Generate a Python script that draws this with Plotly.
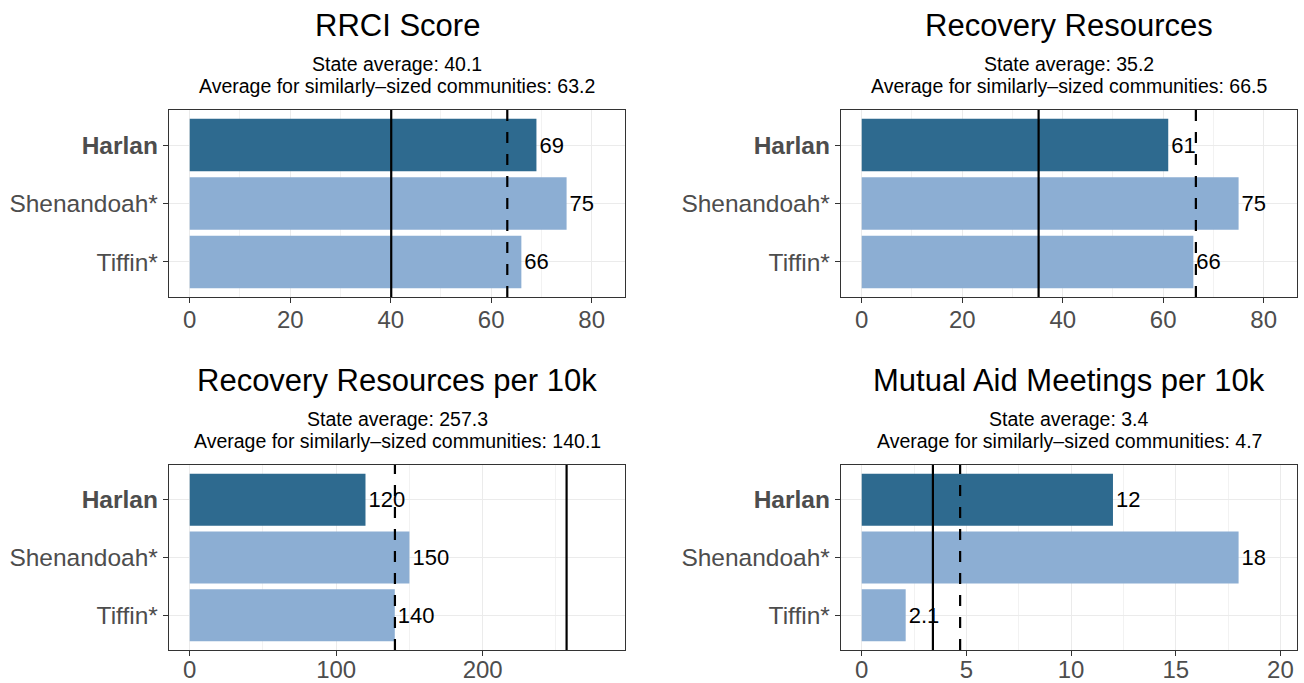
import plotly.graph_objects as go

W, H = 1304, 683

communities = ["Harlan", "Shenandoah*", "Tiffin*"]
titles = ["RRCI Score", "Recovery Resources", "Recovery Resources per 10k", "Mutual Aid Meetings per 10k"]
rrci = [69, 75, 66]
resources = [61, 75, 66]
resources_per10k = [120, 150, 140]
meetings_per10k = [12, 18, 2.1]
labels_rrci = ["69", "75", "66"]
labels_resources = ["61", "75", "66"]
labels_res10k = ["120", "150", "140"]
labels_meet10k = ["12", "18", "2.1"]
state_avg = [40.1, 35.2, 257.3, 3.4]
similar_avg = [63.2, 66.5, 140.1, 4.7]
x_ticks = [[0, 20, 40, 60, 80], [0, 20, 40, 60, 80], [0, 100, 200], [0, 5, 10, 15, 20]]
x_minor = [[10, 30, 50, 70], [10, 30, 50, 70], [50, 150, 250], [2.5, 7.5, 12.5, 17.5]]

values = [rrci, resources, resources_per10k, meetings_per10k]
labels = [labels_rrci, labels_resources, labels_res10k, labels_meet10k]

DARK = "#2E6A8F"
LIGHT = "#8CAED3"
FONT = "Liberation Sans, Arial, sans-serif"

# panel boxes in pixels: (left, right, top, bottom)
boxes = [(169, 625, 110, 297), (841, 1297, 110, 297),
         (169, 625, 465, 650), (841, 1297, 465, 650)]
title_y = [25, 25, 380, 380]
sub1_y = [64, 64, 419, 419]
sub2_y = [86, 86, 441, 441]
standoff = [-4, -4, -7, -7]

fig = go.Figure()
layout = dict(width=W, height=H, margin=dict(l=0, r=0, t=0, b=0),
              paper_bgcolor="white", plot_bgcolor="white",
              showlegend=False, font=dict(family=FONT))
annotations = []
shapes = []

for i in range(4):
    xa = "x" if i == 0 else f"x{i+1}"
    ya = "y" if i == 0 else f"y{i+1}"
    vals = values[i]
    colors = [DARK if c == "Harlan" else LIGHT for c in communities]
    fig.add_trace(go.Bar(
        x=vals, y=communities, orientation="h", xaxis=xa, yaxis=ya,
        marker=dict(color=colors, line=dict(width=0)), width=0.9,
        text=labels[i], textposition="outside", constraintext="none",
        textfont=dict(size=22, color="black", family=FONT),
        cliponaxis=False, hoverinfo="skip"))
    lim = max(max(vals), state_avg[i], similar_avg[i]) * 1.1
    pad = lim * 0.05
    l, r, t, b = boxes[i]
    xkey = "xaxis" if i == 0 else f"xaxis{i+1}"
    ykey = "yaxis" if i == 0 else f"yaxis{i+1}"
    layout[xkey] = dict(
        domain=[l / W, r / W], anchor=ya, range=[-pad, lim + pad],
        tickvals=x_ticks[i], ticks="outside", ticklen=5, tickwidth=1.3,
        ticklabelstandoff=standoff[i],
        tickcolor="#333333", tickfont=dict(size=24, color="#4D4D4D", family=FONT),
        showgrid=True, gridcolor="#EBEBEB", gridwidth=1.3,
        minor=dict(tickvals=x_minor[i], showgrid=True, gridcolor="#F2F2F2", gridwidth=0.7, ticks=""),
        showline=True, mirror=True, linecolor="#333333", linewidth=1.4,
        zeroline=False, fixedrange=True, automargin=False)
    layout[ykey] = dict(
        domain=[1 - b / H, 1 - t / H], anchor=xa,
        categoryorder="array", categoryarray=communities[::-1],
        range=[-0.6, 2.6],
        tickvals=communities,
        ticktext=["<b>Harlan</b>" if c == "Harlan" else c for c in communities],
        ticks="outside", ticklen=5, tickwidth=1.3, tickcolor="#333333",
        tickfont=dict(size=24.5, color="#4D4D4D", family=FONT),
        showgrid=True, gridcolor="#EBEBEB", gridwidth=1.3,
        showline=True, mirror=True, linecolor="#333333", linewidth=1.4,
        zeroline=False, fixedrange=True, automargin=False)
    # reference lines
    shapes.append(dict(type="line", xref=xa, yref=f"{ya} domain",
                       x0=state_avg[i], x1=state_avg[i], y0=0, y1=1,
                       line=dict(color="black", width=2.2)))
    shapes.append(dict(type="line", xref=xa, yref=f"{ya} domain",
                       x0=similar_avg[i], x1=similar_avg[i], y0=0, y1=1,
                       line=dict(color="black", width=2.2, dash="11px,11px")))
    cx = (l + r) / 2 / W
    annotations.append(dict(text=titles[i], x=cx, y=1 - title_y[i] / H,
                            xref="paper", yref="paper", showarrow=False,
                            xanchor="center", yanchor="middle",
                            font=dict(size=31, color="black", family=FONT)))
    annotations.append(dict(text=f"State average: {state_avg[i]}", x=cx, y=1 - sub1_y[i] / H,
                            xref="paper", yref="paper", showarrow=False,
                            xanchor="center", yanchor="middle",
                            font=dict(size=19.5, color="black", family=FONT)))
    annotations.append(dict(text=f"Average for similarly\u2013sized communities: {similar_avg[i]}",
                            x=cx, y=1 - sub2_y[i] / H,
                            xref="paper", yref="paper", showarrow=False,
                            xanchor="center", yanchor="middle",
                            font=dict(size=19.5, color="black", family=FONT)))

layout["annotations"] = annotations
layout["shapes"] = shapes
fig.update_layout(**layout)
fig.write_html("out.html", config={"displayModeBar": False},
               post_script="document.body.style.margin='0px';")
